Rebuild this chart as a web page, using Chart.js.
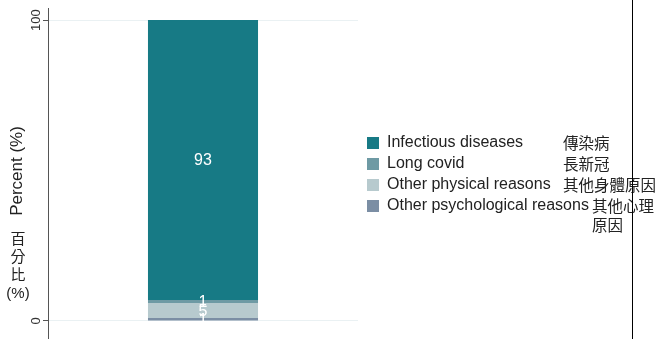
<!DOCTYPE html>
<html><head><meta charset="utf-8">
<script src="https://cdn.jsdelivr.net/npm/chart.js@4/dist/chart.umd.min.js"></script>
<style>html,body{margin:0;padding:0;background:#fff;}#wrap{width:656px;height:339px;position:relative;}</style>
</head><body><div id="wrap"><canvas id="c" width="656" height="339"></canvas></div>
<script>
const categories = ["All"];
// stacked bottom to top
const seriesNames = ["Other psychological reasons", "Other physical reasons", "Long covid", "Infectious diseases"];
const seriesNamesZh = [["其他心理","原因"], ["其他身體原因"], ["長新冠"], ["傳染病"]];
const psychological = [1];
const physical = [5];
const longCovid = [1];
const infectious = [93];
const yTicks = [0, 100];
const colors = ["#7b8ea4", "#b7cace", "#6e9aa4", "#177a85"];

const EN_FONT = '"Liberation Sans", Arial, sans-serif';
const ZH_FONT = '"Noto Sans CJK TC", "Noto Sans CJK SC", sans-serif';

const seriesValues = [psychological, physical, longCovid, infectious];

const extras = {
  id: 'extras',
  afterDatasetsDraw(chart) {
    const ctx = chart.ctx;
    const y = chart.scales.y;
    const area = chart.chartArea;
    ctx.save();
    // tick labels (rotated)
    ctx.fillStyle = '#333';
    ctx.font = '13px ' + EN_FONT;
    ctx.textAlign = 'center';
    ctx.textBaseline = 'middle';
    yTicks.forEach(v => {
      const py = y.getPixelForValue(v);
      ctx.save();
      ctx.translate(area.left - 12, py);
      ctx.rotate(-Math.PI / 2);
      ctx.fillText(String(v), 0, 0);
      ctx.restore();
    });
    // axis title
    ctx.fillStyle = '#222';
    ctx.font = '17px ' + EN_FONT;
    ctx.save();
    ctx.translate(17, 171);
    ctx.rotate(-Math.PI / 2);
    ctx.fillText('Percent (%)', 0, 0);
    ctx.restore();
    ctx.font = '15px ' + ZH_FONT;
    ['百', '分', '比'].forEach((t, i) => ctx.fillText(t, 18, 238 + i * 18));
    ctx.font = '15px ' + EN_FONT;
    ctx.fillText('(%)', 18, 294);

    // data labels
    ctx.fillStyle = '#ffffff';
    ctx.font = '16px ' + EN_FONT;
    chart.data.datasets.forEach((ds, di) => {
      const meta = chart.getDatasetMeta(di);
      meta.data.forEach((bar, i) => {
        const cy = (bar.y + bar.base) / 2;
        ctx.fillText(String(ds.data[i]), bar.x, cy + 1);
      });
    });

    // legend (top-to-bottom = reverse stack order)
    const order = [3, 2, 1, 0];
    ctx.textAlign = 'left';
    order.forEach((di, row) => {
      const cy = 143 + row * 21;
      ctx.fillStyle = colors[di];
      ctx.fillRect(367, cy - 6, 12, 12);
      ctx.fillStyle = '#222';
      ctx.font = '16px ' + EN_FONT;
      ctx.fillText(seriesNames[di], 387, cy);
      const w = ctx.measureText(seriesNames[di]).width;
      const zx = Math.max(563, 387 + w + 3);
      ctx.font = '15.5px ' + ZH_FONT;
      seriesNamesZh[di].forEach((line, li) => ctx.fillText(line, zx, cy + li * 19));
    });

    // right frame line
    ctx.strokeStyle = '#000';
    ctx.lineWidth = 1;
    ctx.beginPath();
    ctx.moveTo(632.5, 0);
    ctx.lineTo(632.5, 339);
    ctx.stroke();
    ctx.restore();
  }
};

new Chart(document.getElementById('c'), {
  type: 'bar',
  data: {
    labels: categories,
    datasets: seriesValues.map((vals, i) => ({
      label: seriesNames[i],
      data: vals,
      backgroundColor: colors[i],
      borderWidth: 0,
      barPercentage: 0.355,
      categoryPercentage: 1.0
    }))
  },
  options: {
    responsive: false,
    animation: false,
    layout: { padding: { left: 0, right: 298, top: 8, bottom: 0 } },
    plugins: { legend: { display: false }, tooltip: { enabled: false } },
    scales: {
      x: { stacked: true, display: false },
      y: {
        stacked: true,
        min: -6, max: 104,
        afterBuildTicks: s => { s.ticks = yTicks.map(v => ({ value: v })); },
        afterFit: s => { s.width = 48; },
        ticks: { display: false },
        grid: { color: '#eaf1f3', lineWidth: 1, drawTicks: true, tickLength: 5, tickColor: '#555' },
        border: { color: '#555', width: 1 }
      }
    }
  },
  plugins: [extras]
});
</script>
</body></html>
